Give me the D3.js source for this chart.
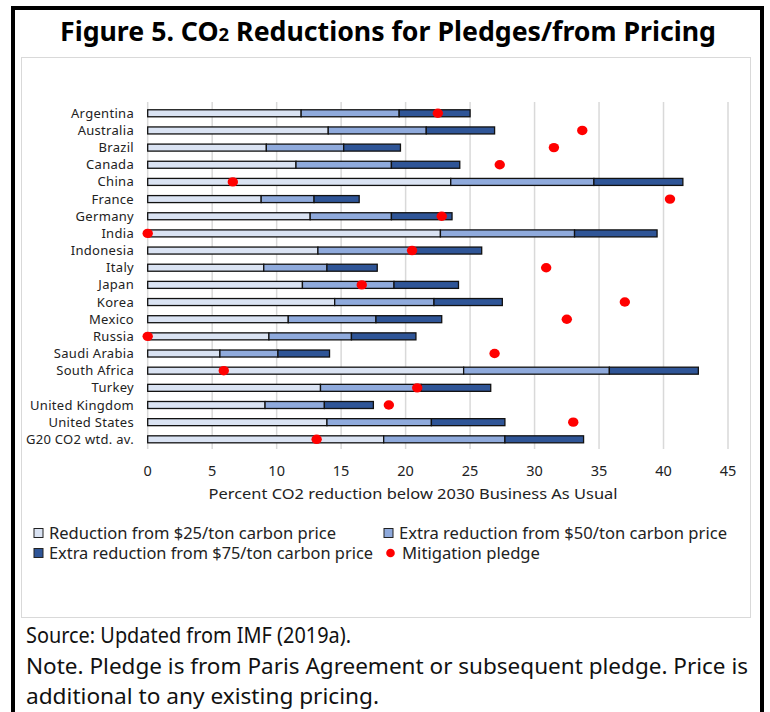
<!DOCTYPE html>
<html>
<head>
<meta charset="utf-8">
<script src="https://cdn.jsdelivr.net/npm/d3@7"></script>
<style>
  body { margin: 0; background: #fff; }
  svg { display: block; font-family: "Noto Sans", "Open Sans", sans-serif; }
</style>
</head>
<body>
<svg id="chart" width="770" height="712"></svg>
<script>
let countries = ["Argentina", "Australia", "Brazil", "Canada", "China", "France", "Germany",
    "India", "Indonesia", "Italy", "Japan", "Korea", "Mexico", "Russia", "Saudi Arabia",
    "South Africa", "Turkey", "United Kingdom", "United States", "G20 CO2 wtd. av."];

// reduction from $25 price, then the extra from $50 and $75
let price25 = [11.9, 14.0, 9.2, 11.5, 23.5, 8.8, 12.6, 22.7, 13.2, 9.0, 12.0, 14.5, 10.9, 9.4, 5.6, 24.5, 13.4, 9.1, 13.9, 18.3];
let extra50 = [7.6, 7.6, 6.0, 7.4, 11.1, 4.1, 6.3, 10.4, 7.4, 4.9, 7.1, 7.7, 6.8, 6.4, 4.5, 11.3, 7.8, 4.6, 8.1, 9.4];
let extra75 = [5.5, 5.3, 4.4, 5.3, 6.9, 3.5, 4.7, 6.4, 5.3, 3.9, 5.0, 5.3, 5.1, 5.0, 4.0, 6.9, 5.4, 3.8, 5.7, 6.1];
let pledge = [22.5, 33.7, 31.5, 27.3, 6.6, 40.5, 22.8, 0, 20.5, 30.9, 16.6, 37.0, 32.5, 0, 26.9, 5.9, 20.9, 18.7, 33.0, 13.1];

let xTicks = [0, 5, 10, 15, 20, 25, 30, 35, 40, 45];
let seriesNames = ["Reduction from $25/ton carbon price", "Extra reduction from $50/ton carbon price",
    "Extra reduction from $75/ton carbon price", "Mitigation pledge"];
let colors = ["#dae3f3", "#8faadc", "#2f5597", "#ff0000"];

let svg = d3.select("#chart");

// frame
svg.append("rect")
    .attr("x", 13).attr("y", 8).attr("width", 749).attr("height", 720)
    .attr("fill", "none").attr("stroke", "#000").attr("stroke-width", 4);

svg.append("rect")
    .attr("x", 21.5).attr("y", 57.5).attr("width", 729).attr("height", 560)
    .attr("fill", "none").attr("stroke", "#d9d9d9").attr("stroke-width", 1);

// title
let title = svg.append("text")
    .attr("x", 388).attr("y", 41)
    .attr("text-anchor", "middle")
    .attr("font-size", 26).attr("font-weight", "bold")
    .attr("textLength", 656).attr("lengthAdjust", "spacingAndGlyphs");
title.append("tspan").text("Figure 5. CO");
title.append("tspan").attr("font-size", 18).text("2");
title.append("tspan").text(" Reductions for Pledges/from Pricing");

// scales
let x = d3.scaleLinear().domain([0, 45]).range([147.7, 728]);
let y = d3.scaleBand().domain(countries).range([104.7, 447.9]);
let barH = 7;

// gridlines
svg.append("g")
    .selectAll("line")
    .data(xTicks).enter()
    .append("line")
    .attr("x1", d => x(d)).attr("x2", d => x(d))
    .attr("y1", 102).attr("y2", 449)
    .attr("stroke", "#d9d9d9").attr("stroke-width", 1.5);

// stacked bars
let stack = countries.map((c, i) => {
    let a = price25[i], b = a + extra50[i], e = b + extra75[i];
    return [
        { c: c, x0: 0, x1: a, k: 0 },
        { c: c, x0: a, x1: b, k: 1 },
        { c: c, x0: b, x1: e, k: 2 }
    ];
}).flat();

svg.append("g")
    .selectAll("rect")
    .data(stack).enter()
    .append("rect")
    .attr("x", d => x(d.x0))
    .attr("y", d => y(d.c) + y.bandwidth() / 2 - barH / 2)
    .attr("width", d => x(d.x1) - x(d.x0))
    .attr("height", barH)
    .attr("fill", d => colors[d.k])
    .attr("stroke", "#111").attr("stroke-width", 1.3);

// pledge dots
svg.append("g")
    .selectAll("ellipse")
    .data(countries).enter()
    .append("ellipse")
    .attr("cx", (d, i) => x(pledge[i]))
    .attr("cy", d => y(d) + y.bandwidth() / 2)
    .attr("rx", 5.2).attr("ry", 4.7)
    .attr("fill", colors[3]);

// category labels
svg.append("g")
    .selectAll("text")
    .data(countries).enter()
    .append("text")
    .attr("x", 134)
    .attr("y", d => y(d) + y.bandwidth() / 2)
    .attr("dy", "0.35em")
    .attr("text-anchor", "end")
    .attr("font-size", 13).attr("letter-spacing", 0.3)
    .attr("fill", "#222")
    .text(d => d);

// x tick labels
svg.append("g")
    .selectAll("text")
    .data(xTicks).enter()
    .append("text")
    .attr("x", d => x(d))
    .attr("y", 476)
    .attr("text-anchor", "middle")
    .attr("font-size", 14.5)
    .attr("fill", "#222")
    .text(d => d);

svg.append("text")
    .attr("x", 413).attr("y", 499)
    .attr("text-anchor", "middle")
    .attr("font-size", 14.5)
    .attr("fill", "#222")
    .attr("textLength", 409).attr("lengthAdjust", "spacingAndGlyphs")
    .text("Percent CO2 reduction below 2030 Business As Usual");

// legend
let legendPos = [[34, 533], [384, 533], [34, 553], [384, 553]];
let legendLen = [287, 328, 324, 138];
let lg = svg.append("g")
    .selectAll("g")
    .data(seriesNames).enter()
    .append("g")
    .attr("transform", (d, i) => "translate(" + legendPos[i][0] + "," + legendPos[i][1] + ")");

lg.filter((d, i) => i < 3).append("rect")
    .attr("x", 0).attr("y", -4.5).attr("width", 9).attr("height", 9)
    .attr("fill", (d, i) => colors[i])
    .attr("stroke", "#222").attr("stroke-width", 1);

lg.filter((d, i) => i === 3).append("circle")
    .attr("cx", 6.5).attr("cy", 0).attr("r", 4.3)
    .attr("fill", colors[3]);

lg.append("text")
    .attr("x", (d, i) => i === 3 ? 18 : 15).attr("dy", "0.36em")
    .attr("font-size", 16)
    .attr("fill", "#222")
    .attr("textLength", (d, i) => legendLen[i]).attr("lengthAdjust", "spacingAndGlyphs")
    .text(d => d);

// footnotes
let notes = ["Source: Updated from IMF (2019a).",
    "Note. Pledge is from Paris Agreement or subsequent pledge. Price is",
    "additional to any existing pricing."];
let noteLen = [325, 722, 353];

svg.append("g")
    .selectAll("text")
    .data(notes).enter()
    .append("text")
    .attr("x", 26)
    .attr("y", (d, i) => 643 + i * 30.5)
    .attr("font-size", 21)
    .attr("fill", "#111")
    .attr("textLength", (d, i) => noteLen[i]).attr("lengthAdjust", "spacingAndGlyphs")
    .text(d => d);
</script>
</body>
</html>
